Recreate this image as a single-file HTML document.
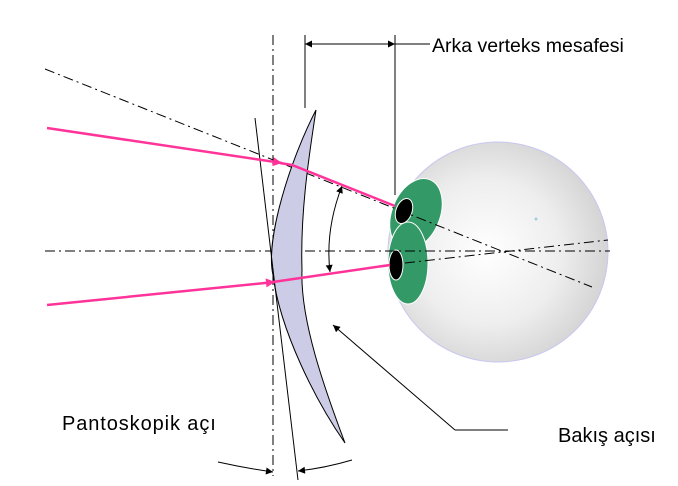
<!DOCTYPE html>
<html><head><meta charset="utf-8"><style>
html,body{margin:0;padding:0;background:#fff;}
svg{display:block;}
text{font-family:"Liberation Sans",sans-serif;}
</style></head><body>
<svg width="678" height="486" viewBox="0 0 678 486" xmlns="http://www.w3.org/2000/svg">
<defs>
<radialGradient id="eg" cx="0.45" cy="0.5" r="0.55">
<stop offset="0" stop-color="#ffffff"/><stop offset="0.6" stop-color="#eeeeee"/><stop offset="1" stop-color="#d4d4d4"/>
</radialGradient>
<marker id="ah" viewBox="0 0 10 10" refX="10" refY="5" markerWidth="10" markerHeight="7" orient="auto-start-reverse" markerUnits="userSpaceOnUse"><path d="M0,0 L10,5 L0,10 z" fill="#000"/></marker>
<marker id="ap" viewBox="0 0 10 10" refX="10" refY="5" markerWidth="14" markerHeight="9" orient="auto" markerUnits="userSpaceOnUse"><path d="M0,0 L10,5 L0,10 z" fill="#ff3399"/></marker>
</defs>
<circle cx="498" cy="252" r="110" fill="url(#eg)" stroke="#c8c8f0" stroke-width="1"/>
<circle cx="536" cy="219" r="1.5" fill="#9cd0e0"/>
<ellipse cx="416" cy="214" rx="24" ry="37" transform="rotate(22 416 214)" fill="#339966" stroke="#fff" stroke-width="1"/>
<ellipse cx="408" cy="263" rx="20" ry="41" fill="#339966" stroke="#fff" stroke-width="1"/>
<ellipse cx="404" cy="211" rx="8" ry="13" transform="rotate(20 404 211)" fill="#000" stroke="#fff" stroke-width="1"/>
<ellipse cx="396" cy="265" rx="7" ry="15" fill="#000" stroke="#fff" stroke-width="1"/>
<g stroke="#000" stroke-width="1" fill="none" stroke-dasharray="10,4,2,4">
<line x1="273" y1="35" x2="273" y2="476"/>
<line x1="45" y1="251" x2="610" y2="251"/>
<line x1="45" y1="69" x2="592" y2="287"/>
<line x1="405" y1="263" x2="608" y2="240"/>
</g>
<path d="M316,110 C290,160 265,240 273,275 C280,330 315,400 345,443 C325,390 300,320 302,270 C300,210 310,150 316,110 Z" fill="#cccce6" stroke="#000" stroke-width="1"/>
<line x1="255" y1="118" x2="298" y2="480" stroke="#000" stroke-width="1"/>
<g stroke="#000" stroke-width="1" fill="none">
<line x1="305" y1="35" x2="305" y2="108"/>
<line x1="395" y1="35" x2="395" y2="195"/>
<line x1="305" y1="44" x2="395" y2="44" marker-start="url(#ah)" marker-end="url(#ah)"/>
<line x1="395" y1="44" x2="430" y2="44"/>
<path d="M342,186 Q325,230 330,272" marker-start="url(#ah)" marker-end="url(#ah)"/>
<polyline points="455,430 333,325" marker-end="url(#ah)"/>
<line x1="455" y1="430" x2="508" y2="430"/>
<path d="M218,462 Q245,468 273,472" marker-end="url(#ah)"/>
<path d="M352,460 Q325,468 298,471" marker-end="url(#ah)"/>
</g>
<g stroke="#ff3399" stroke-width="2.5" fill="none">
<line x1="47" y1="128" x2="282" y2="163" marker-end="url(#ap)"/>
<polyline points="280,163 292,165 395,206"/>
<line x1="47" y1="305" x2="275" y2="282" marker-end="url(#ap)"/>
<line x1="273" y1="282" x2="390" y2="265"/>
</g>
<text x="432" y="52" font-size="19.5">Arka verteks mesafesi</text>
<text x="62" y="430" font-size="20" letter-spacing="0.9">Pantoskopik açı</text>
<text x="558" y="442" font-size="20">Bakış açısı</text>
</svg>
</body></html>
